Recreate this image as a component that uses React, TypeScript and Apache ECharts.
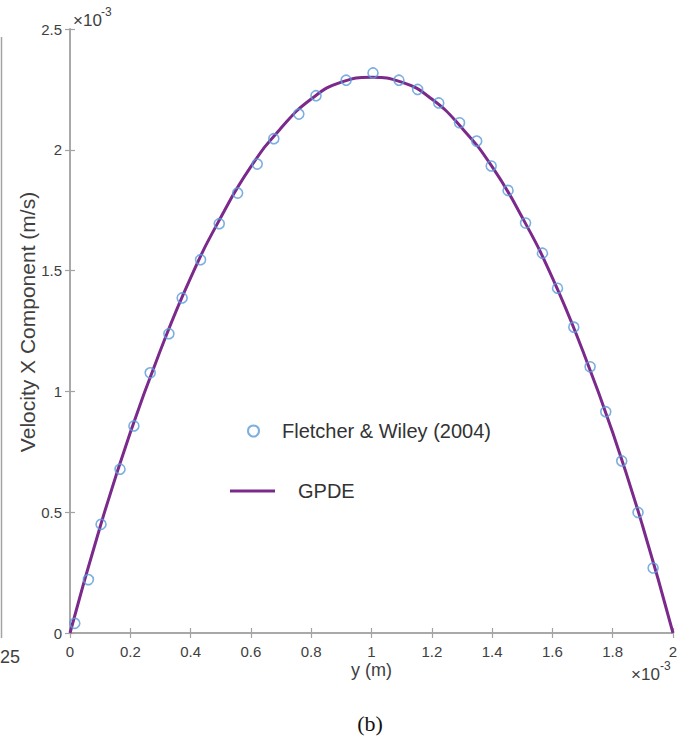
import React, { useEffect, useRef } from "react";
import * as echarts from "echarts";

// Fletcher & Wiley (2004) points: [y (×1e-3 m), velocity (×1e-3 m/s)]
const fletcherX = [
  0.016, 0.061, 0.103, 0.166, 0.212, 0.266, 0.328, 0.372, 0.433, 0.495, 0.556,
  0.621, 0.676, 0.759, 0.816, 0.916, 1.005, 1.091, 1.153, 1.223, 1.292, 1.349,
  1.397, 1.453, 1.511, 1.567, 1.617, 1.671, 1.725, 1.777, 1.83, 1.884, 1.934,
];
const fletcherY = [
  0.04, 0.221, 0.45, 0.678, 0.857, 1.077, 1.239, 1.387, 1.545, 1.694, 1.821,
  1.941, 2.046, 2.148, 2.224, 2.288, 2.318, 2.288, 2.25, 2.194, 2.112, 2.036,
  1.933, 1.832, 1.697, 1.572, 1.427, 1.266, 1.102, 0.916, 0.712, 0.499, 0.269,
];

// GPDE curve
const gpdeX = [
  0, 0.1, 0.2, 0.3, 0.4, 0.5, 0.6, 0.7, 0.8, 0.9, 1.0, 1.1, 1.2, 1.3, 1.4, 1.5,
  1.6, 1.7, 1.8, 1.9, 2.0,
];
const gpdeY = [
  0, 0.44, 0.83, 1.17, 1.47, 1.72, 1.93, 2.09, 2.21, 2.28, 2.3, 2.28, 2.21,
  2.09, 1.93, 1.72, 1.47, 1.17, 0.83, 0.44, 0,
];

const seriesNames = ["Fletcher & Wiley (2004)", "GPDE"];
const xAxisName = "y (m)";
const yAxisName = "Velocity X Component (m/s)";
const exponentBase = "×10";
const exponentPower = "-3";
const panelLabel = "(b)";
const neighbourLabel = "25";

const FONT = "'Liberation Sans', Arial, Helvetica, sans-serif";
const AXIS_COLOR = "#a3a3a3";
const TEXT_COLOR = "#404040";
const LINE_COLOR = "#7b2a8c";
const MARK_COLOR = "#5b9bd8";

export default function App() {
  const ref = useRef<HTMLDivElement>(null);

  useEffect(() => {
    if (!ref.current) return;
    const chart = echarts.init(ref.current, undefined, { renderer: "svg" });

    const axisCommon = {
      axisLine: { show: true, lineStyle: { color: AXIS_COLOR, width: 1.5 } },
      axisTick: { show: true, inside: true, length: 5, lineStyle: { color: AXIS_COLOR, width: 1.2 } },
      splitLine: { show: false },
    };

    chart.setOption({
      animation: false,
      backgroundColor: "#ffffff",
      grid: { left: 70, right: 18, top: 29, bottom: 109, containLabel: false },
      xAxis: [
        {
          type: "value",
          min: 0,
          max: 2,
          interval: 0.2,
          position: "bottom",
          name: xAxisName,
          nameLocation: "middle",
          nameGap: 28,
          nameMoveOverlap: false,
          nameTextStyle: { fontFamily: FONT, fontSize: 18, color: TEXT_COLOR },
          axisLabel: { fontFamily: FONT, fontSize: 15, color: TEXT_COLOR, margin: 11 },
          ...axisCommon,
        },
        {
          type: "value",
          min: 0,
          max: 2,
          interval: 0.2,
          position: "top",
          axisLabel: { show: false },
          ...axisCommon,
        },
      ],
      yAxis: [
        {
          type: "value",
          min: 0,
          max: 2.5,
          interval: 0.5,
          position: "left",
          name: yAxisName,
          nameLocation: "middle",
          nameGap: 32,
          nameMoveOverlap: false,
          nameTextStyle: {
            fontFamily: FONT,
            fontSize: 21,
            color: TEXT_COLOR,
            padding: [0, 0, 0, 18],
          },
          axisLabel: { fontFamily: FONT, fontSize: 15, color: TEXT_COLOR, margin: 8 },
          ...axisCommon,
        },
        {
          type: "value",
          min: 0,
          max: 2.5,
          interval: 0.5,
          position: "right",
          axisLabel: { show: false },
          ...axisCommon,
        },
      ],
      legend: [
        {
          data: [seriesNames[0]],
          left: 247,
          top: 421,
          padding: 0,
          itemWidth: 11,
          itemHeight: 11,
          textStyle: { fontFamily: FONT, fontSize: 20, color: "#333", padding: [0, 0, 0, 18] },
        },
        {
          data: [{ name: seriesNames[1], icon: "rect" }],
          left: 230,
          top: 481,
          padding: 0,
          itemWidth: 45,
          itemHeight: 3,
          textStyle: { fontFamily: FONT, fontSize: 20, color: "#333", padding: [0, 0, 0, 18] },
        },
      ],
      series: [
        {
          name: seriesNames[1],
          type: "line",
          data: gpdeX.map((x, i) => [x, gpdeY[i]]),
          smooth: true,
          symbol: "none",
          lineStyle: { color: LINE_COLOR, width: 3 },
          itemStyle: { color: LINE_COLOR },
          z: 2,
        },
        {
          name: seriesNames[0],
          type: "scatter",
          data: fletcherX.map((x, i) => [x, fletcherY[i]]),
          symbol: "circle",
          symbolSize: 10,
          itemStyle: { color: "rgba(0,0,0,0)", borderColor: MARK_COLOR, borderWidth: 1.6 },
          z: 3,
        },
      ],
      graphic: [
        {
          type: "text",
          left: 73,
          top: 12,
          style: { text: exponentBase, fontFamily: FONT, fontSize: 17, fill: TEXT_COLOR },
        },
        {
          type: "text",
          left: 101,
          top: 6,
          style: { text: exponentPower, fontFamily: FONT, fontSize: 12, fill: TEXT_COLOR },
        },
        {
          type: "text",
          left: 631,
          top: 666,
          style: { text: exponentBase, fontFamily: FONT, fontSize: 17, fill: TEXT_COLOR },
        },
        {
          type: "text",
          left: 660,
          top: 660,
          style: { text: exponentPower, fontFamily: FONT, fontSize: 12, fill: TEXT_COLOR },
        },
        {
          type: "text",
          x: 370,
          y: 723,
          style: {
            text: panelLabel,
            fontFamily: "'Liberation Serif', 'Times New Roman', serif",
            fontSize: 22,
            fill: "#111",
            align: "center",
            verticalAlign: "middle",
          },
        },
        {
          type: "text",
          x: 0,
          y: 657,
          style: {
            text: neighbourLabel,
            fontFamily: FONT,
            fontSize: 18,
            fill: TEXT_COLOR,
            align: "left",
            verticalAlign: "middle",
          },
        },
        {
          type: "line",
          shape: { x1: 1.5, y1: 37, x2: 1.5, y2: 638 },
          style: { stroke: AXIS_COLOR, lineWidth: 1.5 },
        },
      ],
    });

    return () => chart.dispose();
  }, []);

  return (
    <div
      ref={ref}
      style={{ position: "fixed", left: 0, top: 0, width: 691, height: 742, background: "#fff" }}
    />
  );
}
